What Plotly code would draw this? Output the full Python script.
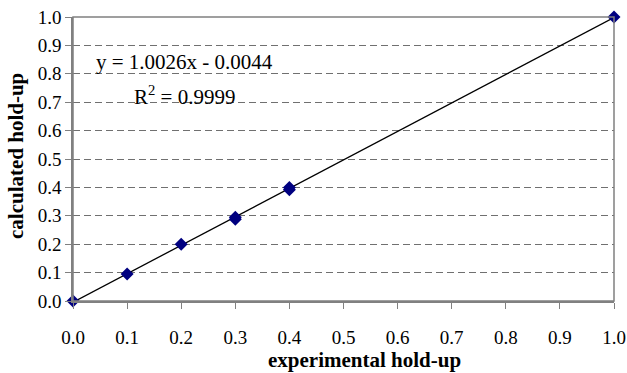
import plotly.graph_objects as go

exp_holdup = [0.0, 0.1, 0.2, 0.3, 0.3, 0.4, 0.4, 1.0]
calc_holdup = [0.0, 0.095, 0.2, 0.288, 0.295, 0.392, 0.400, 1.0]
trend_x = [0.0, 1.0]
trend_y = [-0.0044, 0.9982]
tick_vals = [0.0, 0.1, 0.2, 0.3, 0.4, 0.5, 0.6, 0.7, 0.8, 0.9, 1.0]
tick_text = ["0.0", "0.1", "0.2", "0.3", "0.4", "0.5", "0.6", "0.7", "0.8", "0.9", "1.0"]
x_title = "experimental hold-up"
y_title = "calculated hold-up"

FONT = "Liberation Serif"
W, H = 627, 373
L, R, T, B = 73, 13, 17, 72

fig = go.Figure()
fig.add_trace(go.Scatter(x=trend_x, y=trend_y, mode="lines",
                         line=dict(color="black", width=1.3), cliponaxis=True,
                         showlegend=False, hoverinfo="skip"))
fig.add_trace(go.Scatter(x=exp_holdup, y=calc_holdup, mode="markers",
                         marker=dict(symbol="diamond", color="#000080", size=10),
                         cliponaxis=False, showlegend=False))

fig.add_annotation(x=0.206, y=0.84, xref="x", yref="y", showarrow=False,
                   text="y = 1.0026x - 0.0044",
                   font=dict(family=FONT, size=21, color="black"))
fig.add_annotation(x=0.207, y=0.725, xref="x", yref="y", showarrow=False,
                   text="R<sup>2</sup> = 0.9999",
                   font=dict(family=FONT, size=21, color="black"))

pw, ph = W - L - R, H - T - B
fig.add_annotation(x=(364 - L) / pw, y=-(360 - (H - B)) / ph, xref="paper", yref="paper",
                   showarrow=False, text="<b>" + x_title + "</b>",
                   xanchor="center", yanchor="middle",
                   font=dict(family=FONT, size=21, color="black"))
fig.add_annotation(x=-(L - 16) / pw, y=((H - B) - 156) / ph, xref="paper", yref="paper",
                   showarrow=False, text="<b>" + y_title + "</b>", textangle=-90,
                   xanchor="center", yanchor="middle",
                   font=dict(family=FONT, size=21, color="black"))

fig.update_layout(
    width=W, height=H,
    margin=dict(l=L, r=R, t=T, b=B, autoexpand=False),
    paper_bgcolor="white", plot_bgcolor="white",
    font=dict(family=FONT, size=19, color="black"),
    shapes=[dict(type="rect", xref="paper", yref="paper", x0=0, y0=0, x1=1, y1=1,
                 line=dict(color="#808080", width=1.5), layer="above")],
)
fig.update_xaxes(range=[0, 1], tickvals=tick_vals, ticktext=tick_text,
                 ticks="outside", ticklen=6, tickcolor="#808080",
                 ticklabelstandoff=12, automargin=False,
                 showgrid=False, zeroline=False,
                 showline=True, linecolor="#808080", linewidth=1.5)
fig.update_yaxes(range=[0, 1], tickvals=tick_vals, ticktext=tick_text,
                 ticks="outside", ticklen=6, tickcolor="#808080", automargin=False,
                 showgrid=True, gridcolor="#707070", griddash="7px,4px", gridwidth=1,
                 zeroline=False,
                 showline=True, linecolor="#808080", linewidth=1.5)

fig.write_html("out.html", config={"displayModeBar": False},
               post_script="document.body.style.margin='0';")
